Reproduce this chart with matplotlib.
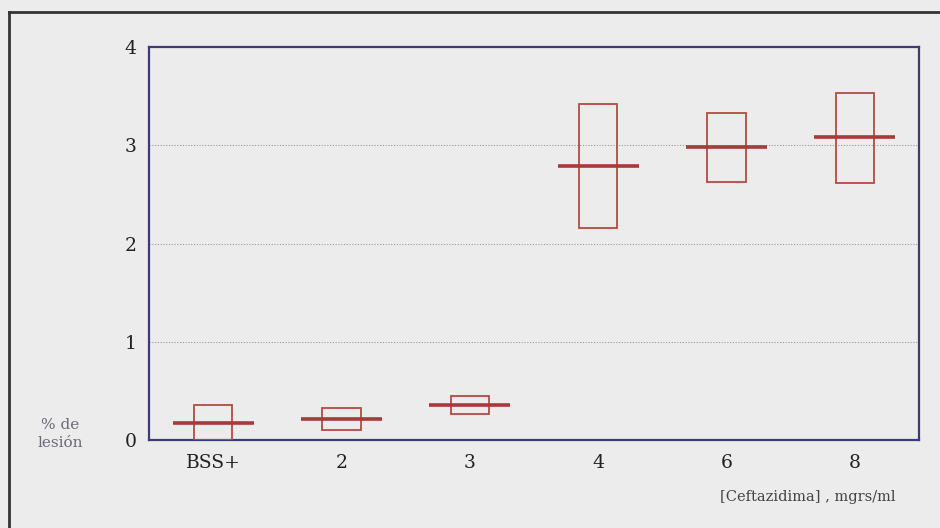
import matplotlib
matplotlib.use("Agg")
import matplotlib.pyplot as plt
from matplotlib.lines import Line2D
from matplotlib.patches import Rectangle

# ── data ─────────────────────────────────────────────────────
categories = ["BSS+", "2", "3", "4", "6", "8"]
box_low = [0.00, 0.10, 0.26, 2.16, 2.63, 2.62]
box_high = [0.36, 0.33, 0.45, 3.42, 3.33, 3.53]
medians = [0.17, 0.21, 0.36, 2.79, 2.98, 3.08]
y_ticks = [0, 1, 2, 3, 4]

BG = "#ececec"
AXIS = "#3c3a78"
BOX = "#b44a42"
MED = "#a8383a"

fig = plt.figure(figsize=(9.4, 5.28), dpi=100, facecolor=BG)
ax = fig.add_axes([149 / 940, 1 - 440 / 528, 770 / 940, 393 / 528])
ax.set_facecolor(BG)

box_w = 0.30
med_w = 0.63
for i, (lo, hi, med) in enumerate(zip(box_low, box_high, medians)):
    ax.add_patch(Rectangle((i - box_w / 2, lo), box_w, hi - lo,
                           fill=False, edgecolor=BOX, linewidth=1.3, zorder=3))
    ax.plot([i - med_w / 2, i + med_w / 2], [med, med],
            color=MED, linewidth=2.6, solid_capstyle="butt", zorder=4)

ax.set_xlim(-0.5, len(categories) - 0.5)
ax.set_ylim(0, 4)
ax.set_xticks(range(len(categories)))
ax.set_xticklabels(categories)
ax.set_yticks(y_ticks)
ax.tick_params(length=0, labelsize=13.5, colors="#222222")
ax.tick_params(axis="y", pad=9)
ax.tick_params(axis="x", pad=10)
for lbl in ax.get_xticklabels() + ax.get_yticklabels():
    lbl.set_family("DejaVu Serif")

for y in [1, 2, 3]:
    ax.axhline(y, color="#9a9a9a", linestyle=(0, (1, 1.5)), linewidth=0.8, zorder=1)

for side in ax.spines.values():
    side.set_color(AXIS)
    side.set_linewidth(1.6)

fig.text(60 / 940, 1 - 434 / 528, "% de\nlesión", ha="center", va="center",
         fontsize=11, color="#6a6a78", family="DejaVu Serif", linespacing=1.35)
fig.text(808 / 940, 1 - 497 / 528, "[Ceftazidima] , mgrs/ml", ha="center",
         va="center", fontsize=10.5, color="#444444", family="DejaVu Serif")

# outer frame lines (left and top)
fig.add_artist(Line2D([9 / 940, 9 / 940], [0, 1 - 12 / 528],
                      transform=fig.transFigure, color="#333333", linewidth=2))
fig.add_artist(Line2D([9 / 940, 1], [1 - 12 / 528, 1 - 12 / 528],
                      transform=fig.transFigure, color="#333333", linewidth=2))

fig.savefig("out.png", dpi=100, facecolor=BG)
